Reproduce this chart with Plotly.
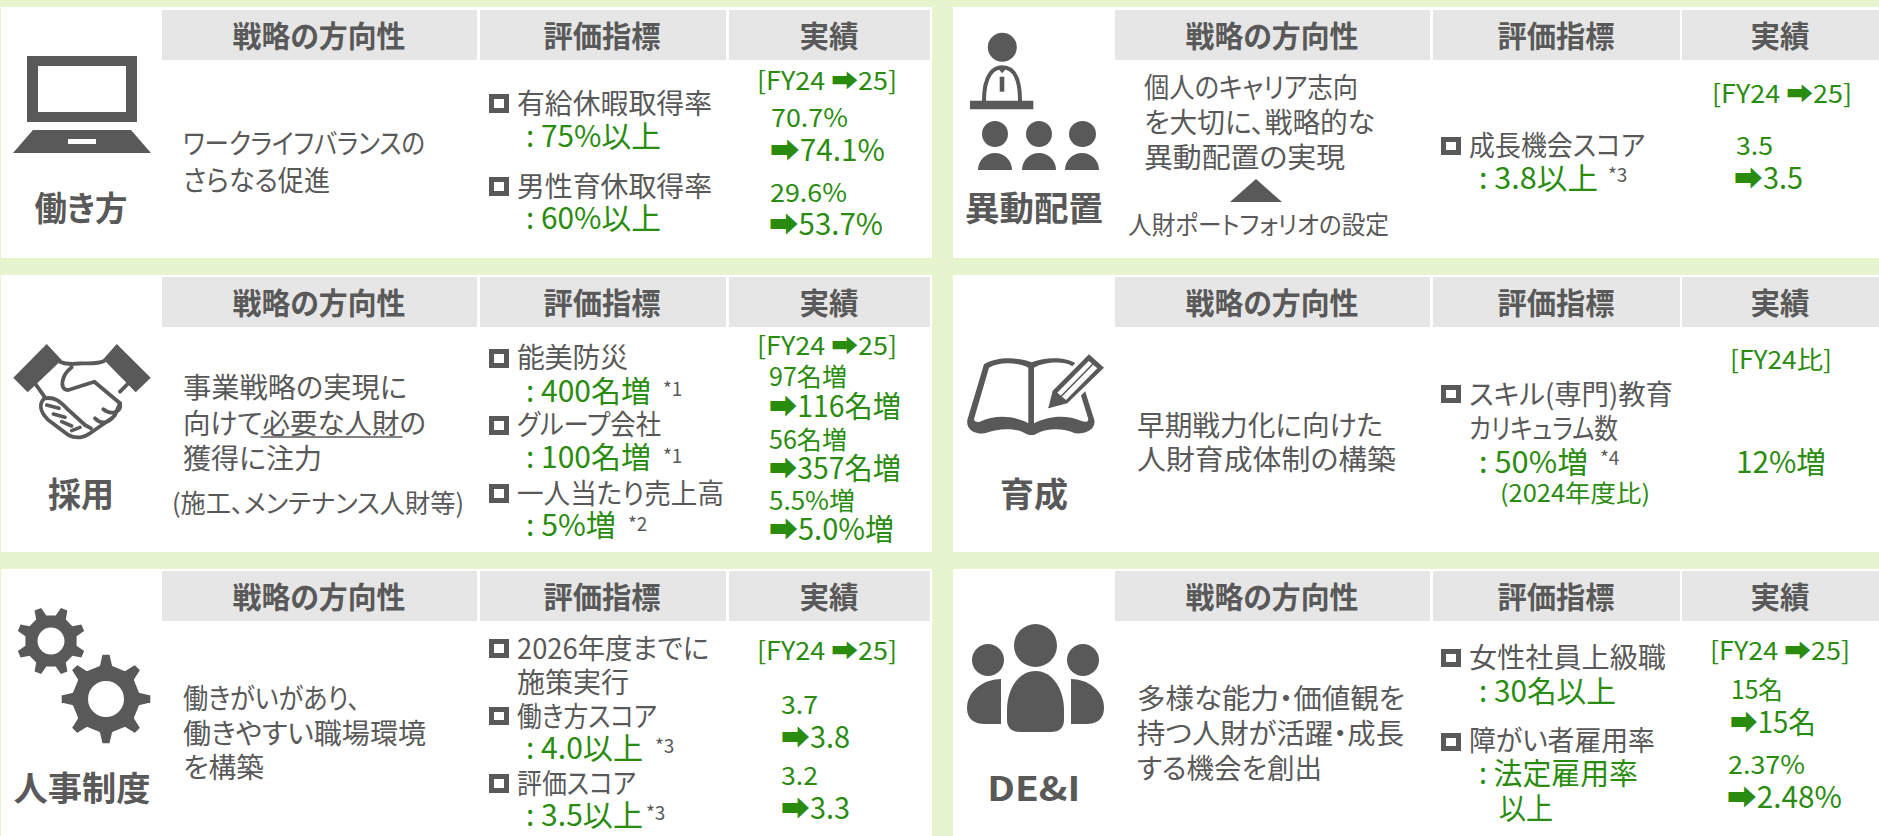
import json
import math
import plotly.graph_objects as go

W, H = 1879, 836
BG, WHITE, HEAD, GRAY, GREEN = "#E6F5CE", "#FFFFFF", "#E6E6E6", "#595959", "#2A8C0F"

HEADERS = ["戦略の方向性", "評価指標", "実績"]
TITLES = ["働き方", "異動配置", "採用", "育成", "人事制度", "DE&I"]
FY = "[FY24 ➡25]"
FY_RATIO = "[FY24比]"

STRAT_A = ["ワークライフバランスの", "さらなる促進"]
METRIC_A = ["有給休暇取得率", ": 75%以上", "男性育休取得率", ": 60%以上"]
RESULT_A = ["70.7%", "➡74.1%", "29.6%", "➡53.7%"]

STRAT_B = ["個人のキャリア志向", "を大切に、戦略的な", "異動配置の実現"]
STRAT_B2 = "人財ポートフォリオの設定"
METRIC_B = ["成長機会スコア", ": 3.8以上"]
RESULT_B = ["3.5", "➡3.5"]

STRAT_C = ["事業戦略の実現に", "向けて必要な人財の", "獲得に注力"]
STRAT_C2 = "(施工、メンテナンス人財等)"
METRIC_C = ["能美防災", ": 400名増", "グループ会社", ": 100名増", "一人当たり売上高", ": 5%増"]
RESULT_C = ["97名増", "➡116名増", "56名増", "➡357名増", "5.5%増", "➡5.0%増"]

STRAT_D = ["早期戦力化に向けた", "人財育成体制の構築"]
METRIC_D = ["スキル(専門)教育", "カリキュラム数", ": 50%増"]
METRIC_D2 = "(2024年度比)"
RESULT_D = ["12%増"]

STRAT_E = ["働きがいがあり、", "働きやすい職場環境", "を構築"]
METRIC_E = ["2026年度までに", "施策実行", "働き方スコア", ": 4.0以上", "評価スコア", ": 3.5以上"]
RESULT_E = ["3.7", "➡3.8", "3.2", "➡3.3"]

STRAT_F = ["多様な能力・価値観を", "持つ人財が活躍・成長", "する機会を創出"]
METRIC_F = ["女性社員上級職", ": 30名以上", "障がい者雇用率", ": 法定雇用率", "以上"]
RESULT_F = ["15名", "➡15名", "2.37%", "➡2.48%"]

# rendered width of each text line in the original typeface (narrow kana)
FIT = {
    "戦略の方向性": 173, "評価指標": 117, "実績": 59, "働き方": 93, "異動配置": 138, "採用": 66, "育成": 68,
    "人事制度": 137, "DE&I": 93,
    "ワークライフバランスの": 242, "さらなる促進": 147, "個人のキャリア志向": 214, "を大切に、戦略的な": 231,
    "異動配置の実現": 201, "人財ポートフォリオの設定": 261, "事業戦略の実現に": 224, "向けて必要な人財の": 243,
    "獲得に注力": 139, "(施工、メンテナンス人財等)": 292, "早期戦力化に向けた": 246, "人財育成体制の構築": 259,
    "働きがいがあり、": 177, "働きやすい職場環境": 243, "を構築": 81, "多様な能力・価値観を": 268,
    "持つ人財が活躍・成長": 267, "する機会を創出": 185,
    "有給休暇取得率": 195, "男性育休取得率": 195, ": 75%以上": 135, ": 60%以上": 135, "成長機会スコア": 176,
    ": 3.8以上": 119, "能美防災": 111, ": 400名増": 125, "グループ会社": 144, ": 100名増": 125,
    "一人当たり売上高": 207, ": 5%増": 90, "スキル(専門)教育": 204, "カリキュラム数": 149, ": 50%増": 109,
    "(2024年度比)": 150, "2026年度までに": 192, "施策実行": 112, "働き方スコア": 140, ": 4.0以上": 117,
    "評価スコア": 119, ": 3.5以上": 117, "女性社員上級職": 197, ": 30名以上": 137, "障がい者雇用率": 186,
    ": 法定雇用率": 159, "以上": 54,
    "[FY24 ➡25]": 140, "[FY24比]": 102, "70.7%": 77, "29.6%": 77, "➡74.1%": 115, "➡53.7%": 114, "3.5": 37,
    "➡3.5": 69, "97名増": 78, "➡116名増": 132, "56名増": 78, "➡357名増": 132, "5.5%増": 86, "➡5.0%増": 125,
    "12%増": 90, "3.7": 37, "3.2": 37, "➡3.8": 69, "➡3.3": 69, "15名": 52, "➡15名": 86, "2.37%": 77, "➡2.48%": 115,
}

shapes, anns = [], []


def rect(x0, y0, x1, y1, fill):
    shapes.append(dict(type="rect", x0=x0, y0=y0, x1=x1, y1=y1, fillcolor=fill, line_width=0, layer="below"))


def oval(x0, y0, x1, y1, fill=GRAY):
    shapes.append(dict(type="circle", x0=x0, y0=y0, x1=x1, y1=y1, fillcolor=fill, line_width=0))


def path(d, fill=GRAY, lw=0, lc=None):
    s = dict(type="path", path=d, line_width=lw)
    if fill:
        s["fillcolor"] = fill
    if lw:
        s["line_color"] = lc or GRAY
    shapes.append(s)


def mapper(ox, oy, sx=3.0, sy=3.0):
    def conv(d):
        out = []
        for tok in d.split():
            if tok[0].isalpha():
                out.append(tok)
            else:
                a, b = tok.split(",")
                out.append(f"{ox + float(a) / sx:.1f},{oy + float(b) / sy:.1f}")
        return " ".join(out)
    return conv


def text(t, x, y, size=27, color=GRAY, anchor="left", bold=False):
    if anchor == "left":
        x -= 1.5
    anns.append(dict(text=f"<b>{t}</b>" if bold else t, x=x, y=y, xref="x", yref="y", showarrow=False,
                     xanchor=anchor, yanchor="middle", align=anchor,
                     font=dict(size=size, color=color, family="Noto Sans CJK JP, DejaVu Sans"),
                     borderpad=0))


def bullet(x, y0, y1):
    w = 20
    o, t = x, 5
    d = (f"M {o},{y0} L {o+w},{y0} L {o+w},{y1} L {o},{y1} Z "
         f"M {o+t},{y0+t} L {o+w-t},{y0+t} L {o+w-t},{y1-t} L {o+t},{y1-t} Z")
    path(d)


def star(t, x, y):
    text(t, x, y, size=19)


STR_S, MET_S, GRN_S, FY_S, SMALL_S, BIG_S = 28, 28, 30, 25, 25, 30

# panels -------------------------------------------------------------
ROWS = [(7, 258, 10, 60), (275, 552, 277, 327), (569, 840, 571, 621)]
COLS = [(1, 932, [(162, 477), (480, 726), (729, 930)]),
        (953, 1879, [(1115, 1430), (1433, 1680), (1682, 1879)])]
for (py0, py1, hy0, hy1) in ROWS:
    for (px0, px1, hc) in COLS:
        rect(px0, py0, px1, py1, WHITE)
        for (c0, c1), h in zip(hc, HEADERS):
            rect(c0, hy0, c1, hy1, HEAD)
            text(h, (c0 + c1) / 2 - 1, (hy0 + hy1) / 2 - 1, size=30, anchor="center", bold=True)

LX, RX = 183, 1137
BL, TL, CL = 489, 517, 526
BR, TR, CR = 1441, 1469, 1479
title_pos = [(81, 206), (1034, 206), (81, 492), (1034, 492), (82, 786), (1034, 786)]
for t, (x, y) in zip(TITLES, title_pos):
    text(t, x, y, size=34, anchor="center", bold=True)

# panel A
for t, y in zip(STRAT_A, [142, 179]):
    text(t, LX, y, STR_S)
for t, y, c in zip(METRIC_A, [102, 134, 185, 216], [GRAY, GREEN, GRAY, GREEN]):
    text(t, TL if c == GRAY else CL, y, MET_S if c == GRAY else GRN_S, c)
bullet(BL, 94, 113); bullet(BL, 177, 196)
text(FY, 757, 79, FY_S, GREEN)
for t, x, y, s in zip(RESULT_A, [771, 770, 770, 769], [116, 148, 191, 222], [SMALL_S, BIG_S] * 2):
    text(t, x, y, s, GREEN)

# panel B
for t, y in zip(STRAT_B, [86, 121, 156]):
    text(t, 1144, y, STR_S)
text(STRAT_B2, 1128, 223, 25)
path("M 1256,179 L 1282,202 L 1230,202 Z")
bullet(BR, 137, 155)
text(METRIC_B[0], TR, 144, MET_S)
text(METRIC_B[1], CR, 176, GRN_S, GREEN)
star("*3", 1608, 173)
text(FY, 1712, 92, FY_S, GREEN)
text(RESULT_B[0], 1736, 144, SMALL_S, GREEN)
text(RESULT_B[1], 1734, 176, BIG_S, GREEN)

# panel C
for t, y in zip(STRAT_C, [386, 422, 457]):
    text(t, LX, y, STR_S)
shapes.append(dict(type="line", x0=261, x1=402, y0=437, y1=437, line=dict(color=GRAY, width=1.5)))
text(STRAT_C2, 172, 501, 26)
for (t, y, c) in zip(METRIC_C, [356, 389, 423, 455, 492, 523], [GRAY, GREEN] * 3):
    text(t, TL if c == GRAY else CL, y, MET_S if c == GRAY else GRN_S, c)
bullet(BL, 349, 368); bullet(BL, 416, 435); bullet(BL, 484, 503)
star("*1", 663, 387); star("*1", 663, 454); star("*2", 628, 522)
text(FY, 757, 344, FY_S, GREEN)
for t, y, s in zip(RESULT_C, [375, 404, 438, 466, 499, 527], [SMALL_S, BIG_S] * 3):
    text(t, 769, y, s, GREEN)

# panel D
for t, y in zip(STRAT_D, [424, 458]):
    text(t, RX, y, STR_S)
bullet(BR, 385, 403)
text(METRIC_D[0], TR, 393, MET_S)
text(METRIC_D[1], TR, 427, MET_S)
text(METRIC_D[2], CR, 460, GRN_S, GREEN)
star("*4", 1600, 456)
text(METRIC_D2, 1500, 491, 24, GREEN)
text(FY_RATIO, 1730, 358, FY_S, GREEN)
text(RESULT_D[0], 1736, 460, BIG_S, GREEN)

# panel E
for t, y in zip(STRAT_E, [697, 732, 766]):
    text(t, LX, y, STR_S)
ey = [647, 681, 715, 746, 782, 813]
ec = [GRAY, GRAY, GRAY, GREEN, GRAY, GREEN]
for t, y, c in zip(METRIC_E, ey, ec):
    text(t, TL if c == GRAY else CL, y, MET_S if c == GRAY else GRN_S, c)
bullet(BL, 639, 658); bullet(BL, 707, 725); bullet(BL, 774, 793)
star("*3", 655, 744); star("*3", 646, 811)
text(FY, 757, 649, FY_S, GREEN)
for t, y, s in zip(RESULT_E, [703, 735, 774, 806], [SMALL_S, BIG_S] * 2):
    text(t, 781, y, s, GREEN)

# panel F
for t, y in zip(STRAT_F, [697, 732, 767]):
    text(t, RX, y, STR_S)
bullet(BR, 649, 667); bullet(BR, 733, 751)
for t, y, c, x in zip(METRIC_F, [656, 689, 739, 771, 806], [GRAY, GREEN, GRAY, GREEN, GREEN],
                      [TR, CR, TR, CR, 1499]):
    text(t, x, y, MET_S if c == GRAY else GRN_S, c)
text(FY, 1710, 649, FY_S, GREEN)
for t, x, y, s in zip(RESULT_F, [1731, 1730, 1728, 1727], [688, 720, 763, 795], [SMALL_S, BIG_S] * 2):
    text(t, x, y, s, GREEN)

# icons --------------------------------------------------------------
# laptop
path("M 27,56 L 137,56 L 137,122 L 27,122 Z M 38,66 L 126,66 L 126,112 L 38,112 Z")
path("M 33,130 L 131,130 L 151,153 L 13,153 Z M 68,139 L 96,139 L 96,144 L 68,144 Z")

# presenter
z = mapper(965, 30)
oval(987.8, 32.8, 1016.8, 61.8)
path(z("M 57,212 C 57,135 85,112 112,112 C 140,112 165,135 165,212"), fill=None, lw=4)
path(z("M 95,112 L 127,112 L 112,130 Z"))
path(z("M 104,140 L 118,140 L 118,185 L 104,185 Z"))
path(z("M 15,212 L 205,212 L 205,238 L 15,238 Z"))
for hx0, hx1, bx0, bx1 in [(982, 1008, 978, 1012), (1026, 1052, 1022, 1056), (1069, 1096, 1065, 1099)]:
    oval(hx0, 121, hx1, 147)
    m = (bx0 + bx1) / 2
    path(f"M {bx0},170 C {bx0},160 {m-9},153 {m},153 C {m+9},153 {bx1},160 {bx1},170 Z")

# handshake
z = mapper(5, 340)
path(z("M 125,12 L 170,60 L 68,157 L 25,113 Z"))
path(z("M 335,12 L 437,113 L 392,157 L 295,58 Z"))
o = dict(fill=None, lw=3.8)
path(z("M 165,65 C 185,75 205,72 230,70 C 255,70 280,72 297,63"), **o)
path(z("M 90,130 L 120,172"), **o)
path(z("M 375,125 L 345,155"), **o)
path(z("M 200,82 C 170,105 160,150 190,150 L 268,125 L 345,190 C 350,215 320,228 295,208"), **o)
path(z("M 118,175 C 100,195 105,215 130,240 L 190,285 C 215,298 240,292 255,280 L 320,235"), **o)
path(z("M 345,190 L 330,225 C 310,250 290,255 270,235"), **o)
path(z("M 120,175 C 150,170 165,185 185,205 L 240,255 L 258,265"), **o)
for a, b, c, d in [(125, 195, 162, 205), (145, 222, 180, 232), (170, 245, 200, 258), (200, 272, 225, 262)]:
    shapes.append(dict(type="line", x0=5 + a / 3, y0=340 + b / 3, x1=5 + c / 3, y1=340 + d / 3,
                       line=dict(color=GRAY, width=3.6)))

# book
z = mapper(960, 345)
path(z("M 215,52 C 170,35 110,35 72,58 L 22,225 C 18,255 45,268 75,265 C 120,248 170,250 195,265 "
       "C 205,272 225,272 232,265 C 260,250 310,248 345,265 C 375,268 408,255 403,225 L 350,58 "
       "C 320,35 260,35 215,52 Z"))
path(z("M 205,68 C 170,50 115,50 87,68 L 42,222 C 42,230 50,232 60,230 C 105,208 165,212 205,235 Z"), fill=WHITE)
path(z("M 222,68 C 255,50 310,48 335,62 L 385,222 C 385,232 375,232 365,228 C 320,208 265,212 222,235 Z"), fill=WHITE)
path(z("M 255,200 L 268,130 L 387,15 L 445,68 L 330,185 Z"), fill=WHITE)
path(z("M 265,190 L 278,137 L 387,28 L 432,68 L 322,175 Z"))
path(z("M 292,143 L 386,48 L 412,70 L 318,165 Z"), fill=WHITE)
path(z("M 302,155 L 398,58"), fill=None, lw=1.6)
path(z("M 283,143 L 312,170 L 265,190 Z"))


# gears
def gear(cx, cy, ro, rr, rh, n, off, stroke=None):
    pts = []
    step = 2 * math.pi / n
    for i in range(n):
        a = off + i * step
        for da, r in [(-0.27, rr), (-0.13, ro), (0.13, ro), (0.27, rr)]:
            pts.append((cx + r * math.cos(a + da * step), cy + r * math.sin(a + da * step)))
    d = "M " + " L ".join(f"{x:.1f},{y:.1f}" for x, y in pts) + " Z"
    k = 0.5523 * rh
    hole = (f" M {cx-rh},{cy} C {cx-rh},{cy-k} {cx-k},{cy-rh} {cx},{cy-rh} "
            f"C {cx+k},{cy-rh} {cx+rh},{cy-k} {cx+rh},{cy} "
            f"C {cx+rh},{cy+k} {cx+k},{cy+rh} {cx},{cy+rh} "
            f"C {cx-k},{cy+rh} {cx-rh},{cy+k} {cx-rh},{cy} Z")
    s = dict(type="path", path=d + hole, fillcolor=GRAY, line_width=0)
    if stroke:
        s["line_width"] = stroke
        s["line_color"] = WHITE
    shapes.append(s)


gear(51, 641, 34.5, 26, 13.5, 8, math.pi / 8)
gear(106, 699, 46, 35, 16.5, 8, -math.pi / 2, stroke=3)

# DE&I people
oval(972, 644, 1004, 676)
oval(1067, 644, 1099, 676)
oval(1014, 624, 1057, 667)
path("M 1001,679 C 985,679 967,690 967,708 C 967,720 975,724 985,724 L 1001,724 Z")
path("M 1071,679 C 1087,679 1104,690 1104,708 C 1104,720 1096,724 1086,724 L 1071,724 Z")
path("M 1035.5,671 C 1018,671 1007,690 1007,710 L 1007,720 C 1007,728 1012,732 1020,732 "
     "L 1051,732 C 1059,732 1064,728 1064,720 L 1064,710 C 1064,690 1053,671 1035.5,671 Z")

fig = go.Figure()
ax = dict(visible=False, fixedrange=True)
fig.update_layout(width=W, height=H, margin=dict(l=0, r=0, t=0, b=0, pad=0), autosize=False,
                  paper_bgcolor=BG, plot_bgcolor=BG, showlegend=False,
                  xaxis=dict(range=[0, W], **ax), yaxis=dict(range=[H, 0], **ax),
                  shapes=shapes, annotations=anns)
css = ('body{margin:0;background:' + BG + '} '
       'text{font-feature-settings:"palt"} '
       '.shapelayer path{stroke-linecap:round;stroke-linejoin:round}')
post = ("var s=document.createElement('style');s.textContent=" + json.dumps(css) + ";document.head.appendChild(s);"
        "var fit=" + json.dumps(FIT, ensure_ascii=False) + ";"
        "document.querySelectorAll('.annotation-text').forEach(function(t){var w=fit[t.textContent];"
        "if(w){t.setAttribute('textLength',w);t.setAttribute('lengthAdjust','spacingAndGlyphs');}});")
fig.write_html("out.html", config=dict(displayModeBar=False), post_script=post)
